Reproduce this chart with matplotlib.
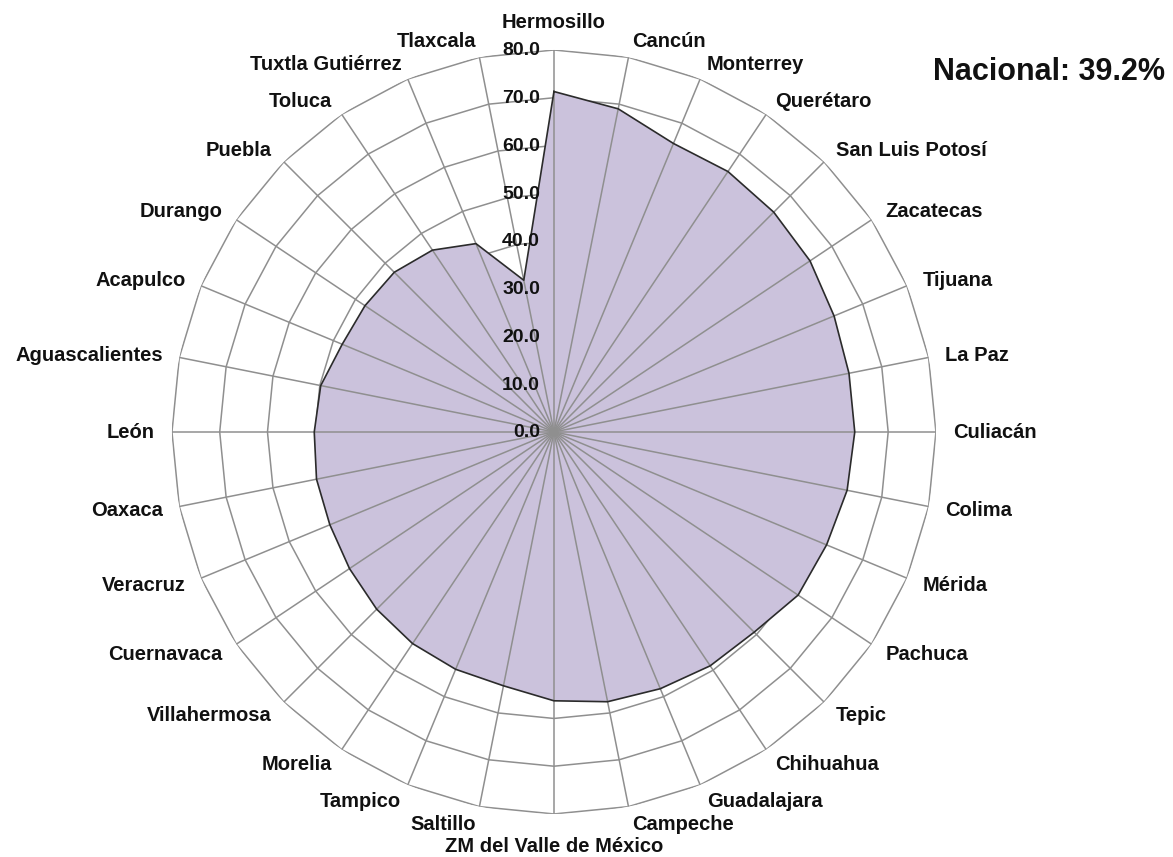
import numpy as np
import matplotlib
matplotlib.use('Agg')
import matplotlib.pyplot as plt

plt.rcParams['font.family'] = ['Liberation Sans', 'DejaVu Sans']
plt.rcParams['font.weight'] = 'bold'

# ciudades, en sentido horario desde arriba
cities = ['Hermosillo', 'Cancún', 'Monterrey', 'Querétaro', 'San Luis Potosí',
          'Zacatecas', 'Tijuana', 'La Paz', 'Culiacán', 'Colima', 'Mérida',
          'Pachuca', 'Tepic', 'Chihuahua', 'Guadalajara', 'Campeche',
          'ZM del Valle de México', 'Saltillo', 'Tampico', 'Morelia',
          'Villahermosa', 'Cuernavaca', 'Veracruz', 'Oaxaca', 'León',
          'Aguascalientes', 'Acapulco', 'Durango', 'Puebla', 'Toluca',
          'Tuxtla Gutiérrez', 'Tlaxcala']
values = [71.3, 69.0, 65.4, 65.6, 65.1, 64.5, 63.5, 63.0, 63.0, 62.6, 61.8,
          61.5, 59.3, 58.9, 58.2, 57.6, 56.3, 54.2, 53.8, 53.3, 52.5, 51.5,
          50.8, 50.7, 50.2, 49.8, 48.0, 47.6, 47.3, 45.8, 42.7, 32.4]
rings = [10, 20, 30, 40, 50, 60, 70, 80]
ring_labels = ['0.0', '10.0', '20.0', '30.0', '40.0', '50.0', '60.0', '70.0', '80.0']
nacional = 'Nacional: 39.2%'

n = len(cities)
angles = np.arange(n) * 2 * np.pi / n
ang_closed = np.append(angles, angles[0])
val_closed = np.append(values, values[0])

fig = plt.figure(figsize=(11.73, 8.57), dpi=100)
ax = fig.add_axes([0.1466, 0.0502, 0.6513, 0.8915], projection='polar')
ax.set_theta_zero_location('N')
ax.set_theta_direction(-1)
ax.set_ylim(0, 80)
ax.grid(False)
ax.set_xticks([])
ax.set_yticks([])
ax.spines['polar'].set_visible(False)
ax.patch.set_alpha(0)

grid_color = '#8f8f8f'
# anillos poligonales
for r in rings:
    ax.plot(ang_closed, [r] * (n + 1), color=grid_color, lw=1.1, zorder=1)

# área de datos
ax.fill(ang_closed, val_closed, color='#cbc2dc', zorder=2, lw=0)

# radios
for a in angles:
    ax.plot([a, a], [0, 80], color=grid_color, lw=1.1, zorder=3)

ax.plot(ang_closed, val_closed, color='#2b2b2b', lw=1.2, zorder=4)

# etiquetas de la escala radial
for i, lab in enumerate(ring_labels):
    ax.annotate(lab, xy=(0, i * 10), xytext=(-14, -1), textcoords='offset pixels',
                ha='right', va='center', fontsize=14, fontweight='bold',
                color='#111111', zorder=5)

# etiquetas de las ciudades
for a, name in zip(angles, cities):
    s, c = np.sin(a), np.cos(a)
    if s > 0.01:
        ha = 'left'
    elif s < -0.01:
        ha = 'right'
    else:
        ha = 'center'
    va = 'center'
    off = 17
    if c > 0.99:
        va = 'bottom'
        off = 19
    elif c < -0.99:
        va = 'top'
        off = 22
    ax.annotate(name, xy=(a, 80), xytext=(off * s, off * c - 1), textcoords='offset pixels',
                ha=ha, va=va, fontsize=14.5, fontweight='bold', color='#111111',
                annotation_clip=False)

fig.text(0.993, 0.916, nacional, ha='right', va='center', fontsize=22,
         fontweight='bold', color='#111111')

fig.savefig('out.png', dpi=100, facecolor='white')
